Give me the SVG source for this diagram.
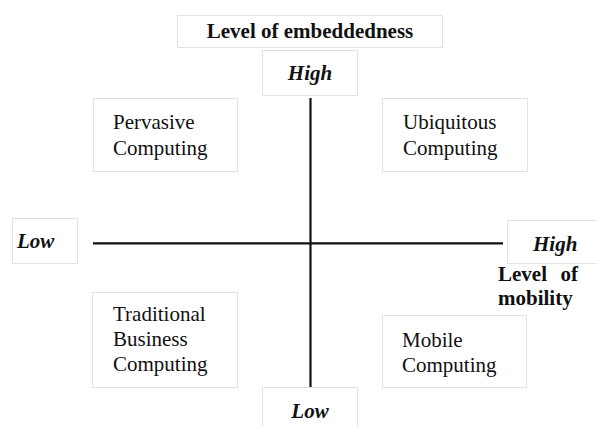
<svg xmlns="http://www.w3.org/2000/svg" width="597" height="426" viewBox="0 0 597 426">
<style>
.box{fill:#fff;stroke:#e2e2e2;stroke-width:1}
.t{font-family:"Liberation Serif","Times New Roman",serif;font-size:21px;fill:#111}
.b{font-weight:bold}
.bi{font-weight:bold;font-style:italic}
.ax{stroke:#111;stroke-width:2.2}
</style>
<rect width="597" height="426" fill="#fff"/>
<g id="title">
<rect class="box" x="177.5" y="15.5" width="265" height="32"/>
<text class="t b" x="310" y="38" text-anchor="middle">Level of embeddedness</text>
</g>
<g id="high-top">
<rect class="box" x="262.5" y="50.5" width="95" height="45"/>
<text class="t bi" x="310" y="80" text-anchor="middle">High</text>
</g>
<g id="pervasive">
<rect class="box" x="93.5" y="98.5" width="144" height="73"/>
<text class="t" x="113" y="129">Pervasive</text>
<text class="t" x="113" y="155">Computing</text>
</g>
<g id="ubiquitous">
<rect class="box" x="382.5" y="98.5" width="145" height="73"/>
<text class="t" x="403" y="129">Ubiquitous</text>
<text class="t" x="403" y="155">Computing</text>
</g>
<g id="low-left">
<rect class="box" x="12.5" y="218.5" width="65" height="45"/>
<text class="t bi" x="17" y="248">Low</text>
</g>
<g id="high-right">
<rect class="box" x="507.5" y="220.5" width="100" height="43"/>
<text class="t bi" x="533" y="251">High</text>
</g>
<g id="mobility-label">
<text class="t b" x="498" y="281">Level</text>
<text class="t b" x="578" y="281" text-anchor="end">of</text>
<text class="t b" x="498" y="305">mobility</text>
</g>
<g id="traditional">
<rect class="box" x="92.5" y="292.5" width="145" height="95"/>
<text class="t" x="113" y="321">Traditional</text>
<text class="t" x="113" y="346">Business</text>
<text class="t" x="113" y="371">Computing</text>
</g>
<g id="mobile">
<rect class="box" x="382.5" y="315.5" width="144" height="72"/>
<text class="t" x="402" y="347">Mobile</text>
<text class="t" x="402" y="372">Computing</text>
</g>
<g id="low-bottom">
<rect class="box" x="262.5" y="387.5" width="95" height="45"/>
<text class="t bi" x="310" y="418" text-anchor="middle">Low</text>
</g>
<g id="connectors">
<line class="ax" x1="310.5" y1="98" x2="310.5" y2="387"/>
<line class="ax" x1="93" y1="243.3" x2="503" y2="243.3"/>
</g>
</svg>
